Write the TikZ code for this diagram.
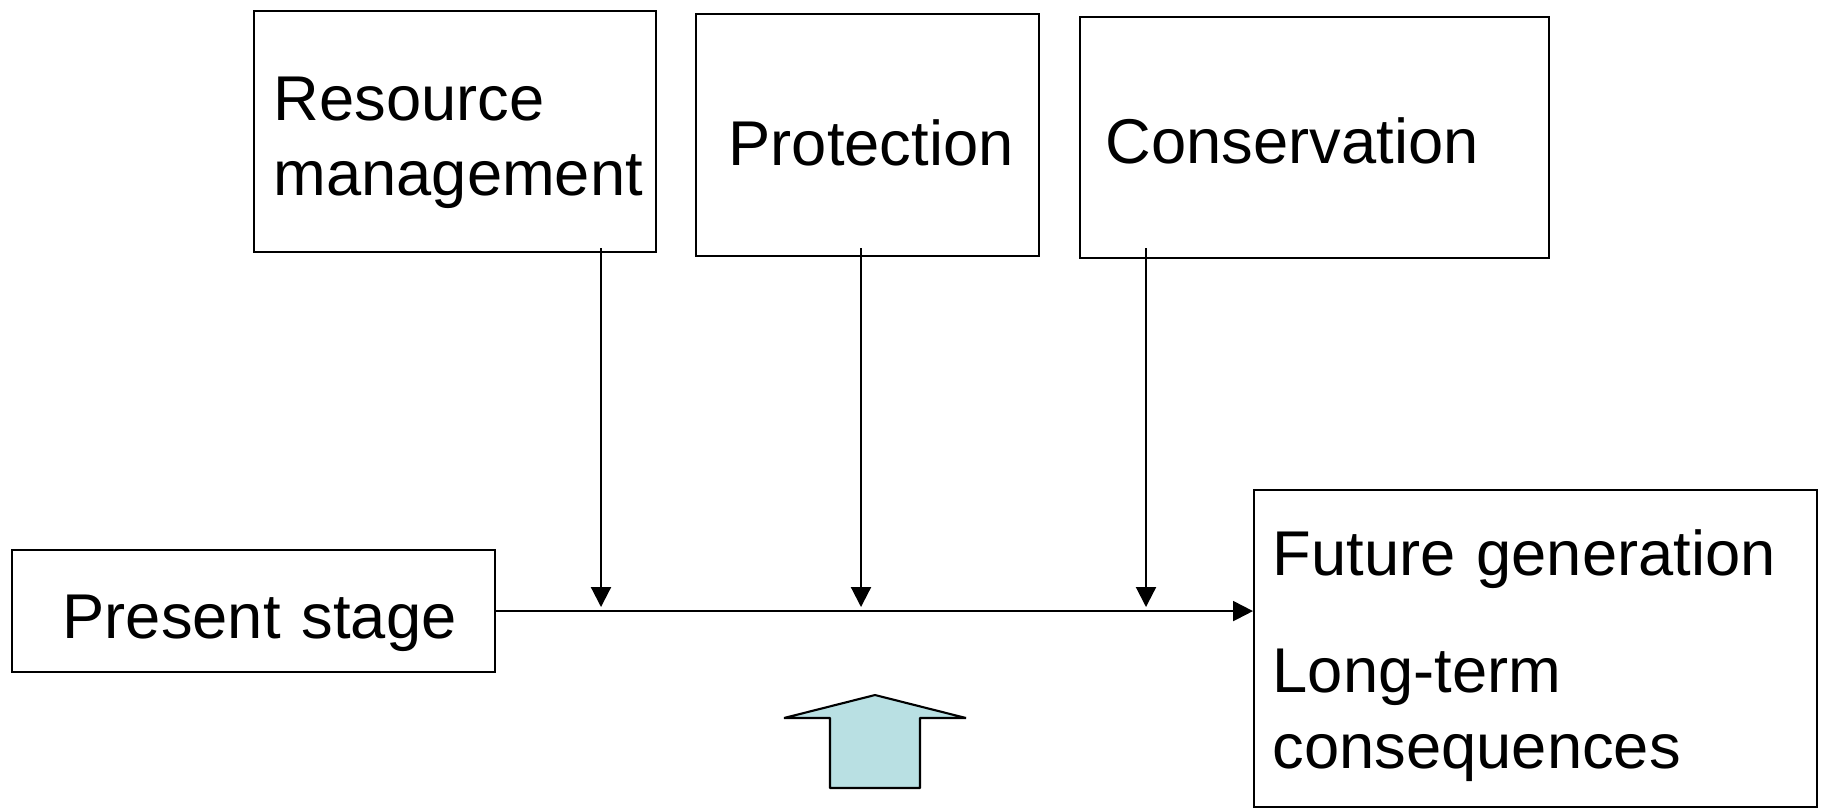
\documentclass[tikz,border=0pt]{standalone}
\usepackage{fontspec}
\setmainfont{Liberation Sans}
\usepackage{tikz}
\usetikzlibrary{arrows.meta}
\usetikzlibrary{calc}
\definecolor{upFill}{RGB}{185,224,227}
\tikzstyle{box} = [draw, line width=0.6pt, anchor=north west, inner sep=0pt]
\tikzstyle{boxtext} = [font={\fontsize{18}{21.5}\selectfont}, anchor=base west,
        inner sep=0pt, text width=6cm, align=left]
\tikzstyle{flow} = [-{Triangle[length=2mm,width=2mm]}, line width=0.6pt]

\begin{document}
\begin{tikzpicture}
        \useasboundingbox (0,0) rectangle (18.22,-8.07);
        \node [box, minimum width=4.02cm, minimum height=2.41cm] (res) at (2.53,-0.10) {};
        \node [boxtext] (resText) at (2.73,-1.20) {Resource\\management};
        \node [box, minimum width=3.43cm, minimum height=2.42cm] (prot) at (6.95,-0.13) {};
        \node [boxtext] (protText) at (7.28,-1.65) {Protection};
        \node [box, minimum width=4.69cm, minimum height=2.41cm] (cons) at (10.79,-0.16) {};
        \node [boxtext] (consText) at (11.05,-1.63) {Conservation};
        \node [box, minimum width=4.83cm, minimum height=1.22cm] (present) at (0.11,-5.49) {};
        \node [boxtext] (presentText) at (0.62,-6.38) {Present stage};
        \node [box, minimum width=5.63cm, minimum height=3.17cm] (future) at (12.53,-4.89) {};
        \node [boxtext] (futureText) at (12.72,-5.75) {Future generation\\[0.42cm]Long-term\\consequences};
        \draw [flow] (present.east) -- (present.east -| future.west);
        \foreach \b/\x [count=\i] in {res/6.01, prot/8.61, cons/11.46} {
            \coordinate (j\i) at (\x,-6.07);
            \draw [flow] ($(j\i |- res.south)+(0,0.05)$) -- (j\i);
        }
        % hollow arrow under the line
        \draw [line width=0.6pt, line join=bevel, fill=upFill]
            (8.75,-6.95) -- (9.66,-7.18) -- (9.20,-7.18) -- (9.20,-7.88)
            -- (8.30,-7.88) -- (8.30,-7.18) -- (7.84,-7.18) -- cycle;
    \end{tikzpicture}
\end{document}
